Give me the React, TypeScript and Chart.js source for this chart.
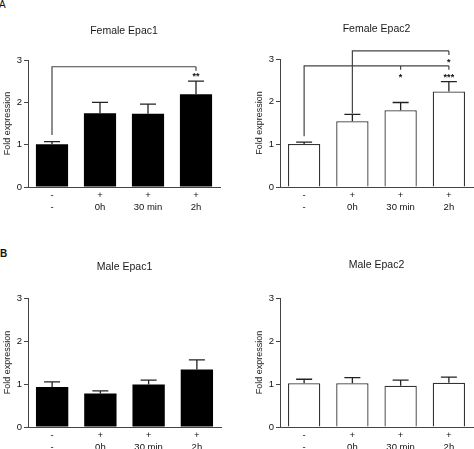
import React, { useEffect, useRef } from "react";
import { Chart, registerables } from "chart.js";

Chart.register(...registerables);

const FONT = "'Liberation Sans', Arial, Helvetica, sans-serif";

// ---- data ----
const categories = [["-", "-"], ["+", "0h"], ["+", "30 min"], ["+", "2h"]];
const yMin = 0;
const yMax = 3;
const yStep = 1;
const yAxisTitle = "Fold expression";

const femaleEpac1Mean = [1.01, 1.74, 1.73, 2.19];
const femaleEpac1Sem = [0.06, 0.26, 0.23, 0.31];
const femaleEpac2Mean = [1.01, 1.54, 1.8, 2.24];
const femaleEpac2Sem = [0.04, 0.16, 0.18, 0.23];
const maleEpac1Mean = [0.93, 0.78, 0.99, 1.34];
const maleEpac1Sem = [0.12, 0.06, 0.1, 0.22];
const maleEpac2Mean = [1.02, 1.02, 0.96, 1.03];
const maleEpac2Sem = [0.09, 0.13, 0.13, 0.13];

type Bracket = { from: number; to: number; y: number; legEnd: number; ticks: number[] };
type Star = { index: number; y: number; text: string };

const femaleEpac1Brackets: Bracket[] = [{ from: 0, to: 3, y: 2.84, legEnd: 1.23, ticks: [3] }];
const femaleEpac1Stars: Star[] = [{ index: 3, y: 2.65, text: "**" }];
const femaleEpac2Brackets: Bracket[] = [
  { from: 0, to: 3, y: 2.84, legEnd: 1.19, ticks: [2, 3] },
  { from: 1, to: 3, y: 3.19, legEnd: 1.72, ticks: [3] },
];
const femaleEpac2Stars: Star[] = [
  { index: 2, y: 2.61, text: "*" },
  { index: 3, y: 2.61, text: "***" },
  { index: 3, y: 2.96, text: "*" },
];

type PanelProps = {
  title: string;
  means: number[];
  sems: number[];
  filled: boolean;
  brackets: Bracket[];
  stars: Star[];
  left: number;
  top: number;
  width: number;
  height: number;
  padLeft: number;
  padRight: number;
  chartTop: number;
  chartBottom: number;
  titleY: number;
};

function Panel(p: PanelProps) {
  const ref = useRef<HTMLCanvasElement | null>(null);
  useEffect(() => {
    const canvas = ref.current;
    if (!canvas) return;
    const decor = {
      id: "panelDecor",
      afterDatasetsDraw(chart: any) {
        const { ctx, chartArea } = chart;
        const xs = chart.scales.x;
        const ys = chart.scales.y;
        const data: number[] = chart.data.datasets[0].data;
        ctx.save();
        // error bars
        ctx.strokeStyle = "#222";
        ctx.lineWidth = 1.3;
        data.forEach((m, i) => {
          const x = xs.getPixelForValue(i);
          const y0 = ys.getPixelForValue(m);
          const y1 = ys.getPixelForValue(m + p.sems[i]);
          ctx.beginPath();
          ctx.moveTo(x, y0);
          ctx.lineTo(x, y1);
          ctx.moveTo(x - 8, y1);
          ctx.lineTo(x + 8, y1);
          ctx.stroke();
        });
        // brackets
        ctx.strokeStyle = "#444";
        ctx.lineWidth = 1.2;
        p.brackets.forEach((b) => {
          const yb = ys.getPixelForValue(b.y);
          const x1 = xs.getPixelForValue(b.from);
          const x2 = xs.getPixelForValue(b.to);
          ctx.beginPath();
          ctx.moveTo(x1, ys.getPixelForValue(b.legEnd));
          ctx.lineTo(x1, yb);
          ctx.lineTo(x2, yb);
          b.ticks.forEach((t) => {
            const xt = xs.getPixelForValue(t);
            ctx.moveTo(xt, yb);
            ctx.lineTo(xt, yb + 4);
          });
          ctx.stroke();
        });
        // stars
        ctx.fillStyle = "#111";
        ctx.font = `bold 9px ${FONT}`;
        ctx.textAlign = "center";
        ctx.textBaseline = "middle";
        p.stars.forEach((s) => {
          ctx.fillText(s.text, xs.getPixelForValue(s.index), ys.getPixelForValue(s.y) + 2);
        });
        // panel title
        ctx.fillStyle = "#1a1a1a";
        ctx.font = `10.5px ${FONT}`;
        ctx.fillText(p.title, (chartArea.left + chartArea.right) / 2, p.titleY);
        ctx.restore();
      },
    };
    const chart = new Chart(canvas, {
      type: "bar",
      data: {
        labels: categories,
        datasets: [
          {
            data: p.means,
            backgroundColor: p.filled ? "#000000" : "#ffffff",
            borderColor: p.filled ? "#000000" : "#333333",
            borderWidth: p.filled ? 0 : 1.3,
            barPercentage: 0.67,
            categoryPercentage: 1,
          },
        ],
      },
      options: {
        animation: false,
        responsive: false,
        devicePixelRatio: 1,
        layout: { padding: { left: p.padLeft, right: p.padRight, top: p.chartTop, bottom: 0 } },
        plugins: {
          legend: { display: false },
          tooltip: { enabled: false },
          title: { display: false },
        },
        scales: {
          x: {
            grid: { display: false, drawTicks: false },
            border: { display: true, color: "#444", width: 1 },
            ticks: {
              color: "#111",
              font: { family: FONT, size: 9.5, lineHeight: 1.3 },
              padding: 2.3,
              maxRotation: 0,
              autoSkip: false,
            },
            afterFit: (s: any) => {
              s.height = p.height - p.chartBottom;
            },
          },
          y: {
            min: yMin,
            max: yMax,
            ticks: { stepSize: yStep, color: "#111", font: { family: FONT, size: 9.5 }, padding: 2 },
            grid: { drawOnChartArea: false, drawTicks: true, tickLength: 4, color: "#444" },
            border: { display: true, color: "#444", width: 1 },
            title: {
              display: true,
              text: yAxisTitle,
              color: "#222",
              font: { family: FONT, size: 9 },
              padding: { top: 2, bottom: 0 },
            },
            afterFit: (s: any) => {
              s.width = 28;
            },
          },
        },
      },
      plugins: [decor],
    } as any);
    return () => chart.destroy();
  }, []);
  return (
    <canvas
      ref={ref}
      width={p.width}
      height={p.height}
      style={{ position: "absolute", left: p.left, top: p.top, width: p.width, height: p.height }}
    />
  );
}

export default function App() {
  return (
    <div
      style={{
        position: "absolute",
        left: 0,
        top: 0,
        width: 474,
        height: 449,
        overflow: "hidden",
        background: "#fff",
        fontFamily: FONT,
      }}
    >
      <div style={{ position: "absolute", left: -1, top: 0, fontSize: 10, lineHeight: "10px", color: "#111" }}>A</div>
      <div
        style={{ position: "absolute", left: 0, top: 248.5, fontSize: 10, lineHeight: "10px", fontWeight: "bold", color: "#111" }}
      >
        B
      </div>
      <Panel
        title="Female Epac1"
        means={femaleEpac1Mean}
        sems={femaleEpac1Sem}
        filled={true}
        brackets={femaleEpac1Brackets}
        stars={femaleEpac1Stars}
        left={0}
        top={0}
        width={237}
        height={225}
        padLeft={0}
        padRight={17}
        chartTop={60}
        chartBottom={187}
        titleY={31}
      />
      <Panel
        title="Female Epac2"
        means={femaleEpac2Mean}
        sems={femaleEpac2Sem}
        filled={false}
        brackets={femaleEpac2Brackets}
        stars={femaleEpac2Stars}
        left={237}
        top={0}
        width={237}
        height={225}
        padLeft={15}
        padRight={1}
        chartTop={59}
        chartBottom={187}
        titleY={29.5}
      />
      <Panel
        title="Male Epac1"
        means={maleEpac1Mean}
        sems={maleEpac1Sem}
        filled={true}
        brackets={[]}
        stars={[]}
        left={0}
        top={225}
        width={237}
        height={224}
        padLeft={0}
        padRight={16}
        chartTop={73}
        chartBottom={202}
        titleY={42}
      />
      <Panel
        title="Male Epac2"
        means={maleEpac2Mean}
        sems={maleEpac2Sem}
        filled={false}
        brackets={[]}
        stars={[]}
        left={237}
        top={225}
        width={237}
        height={224}
        padLeft={15}
        padRight={1}
        chartTop={73}
        chartBottom={202}
        titleY={40.5}
      />
    </div>
  );
}
